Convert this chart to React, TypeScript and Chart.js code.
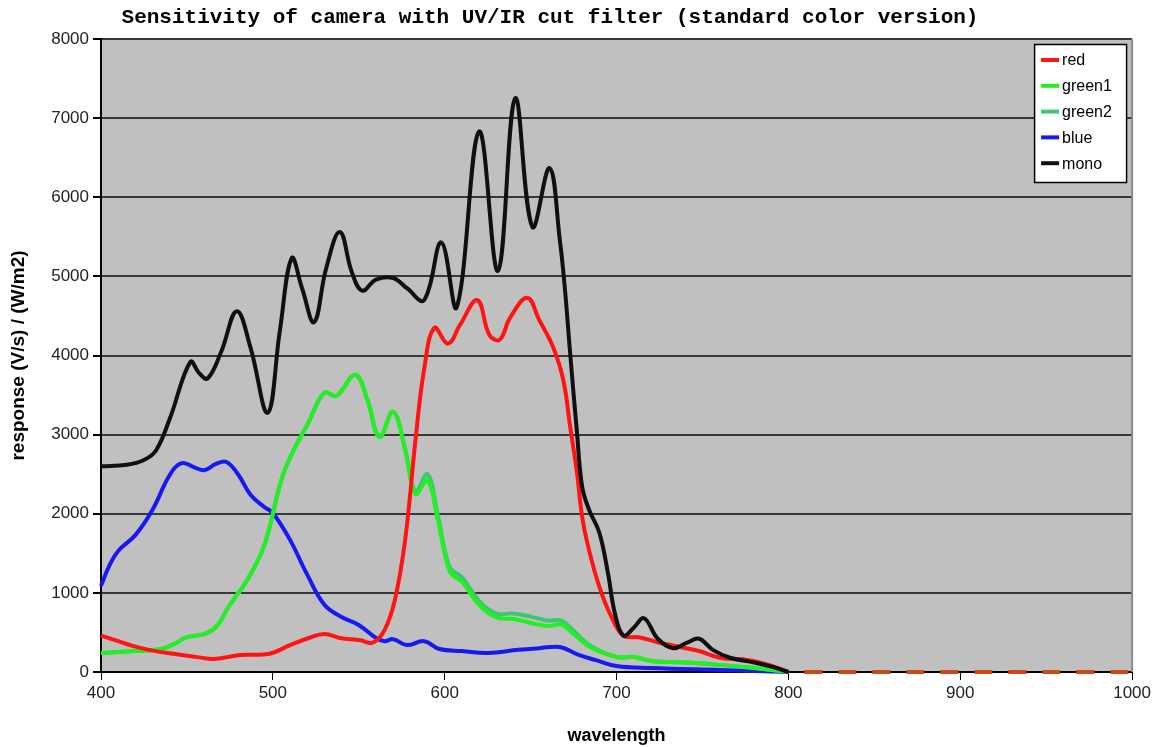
import React, { useEffect, useRef } from "react";
import { Chart, registerables } from "chart.js";

Chart.register(...registerables);

const TITLE = "Sensitivity of camera with UV/IR cut filter (standard color version)";
const X_LABEL = "wavelength";
const Y_LABEL = "response (V/s) / (W/m2)";

const SERIES_NAMES = ["red", "green1", "green2", "blue", "mono"];
const SERIES_COLORS = ["#ff1414", "#22f022", "#3cc872", "#1818f0", "#101010"];
const TAIL_COLOR = "#cc4a16";

const X_MIN = 400;
const X_MAX = 1000;
const X_STEP = 100;
const Y_MIN = 0;
const Y_MAX = 8000;
const Y_STEP = 1000;

const redNm = [400, 410, 420, 430, 445, 457, 466, 481, 498, 510, 521, 530, 539, 551, 558, 565, 571, 577, 583, 588, 594, 602, 609, 619, 626, 632, 638, 648, 655, 663, 669, 673, 677, 680, 684, 690, 696, 704, 713, 725, 737, 748, 760, 777, 790, 800];
const redVal = [460, 390, 320, 270, 220, 185, 165, 215, 230, 340, 430, 480, 430, 400, 370, 530, 910, 1670, 2930, 3820, 4350, 4150, 4390, 4700, 4260, 4200, 4475, 4730, 4450, 4110, 3690, 3100, 2515, 1960, 1540, 1075, 745, 460, 440, 370, 315, 265, 180, 150, 80, 0];

const green1Nm = [400, 420, 435, 443, 450, 460, 467, 475, 485, 495, 505, 512, 520, 530, 537, 548, 555, 562, 570, 577, 583, 590, 596, 603, 610, 620, 630, 640, 650, 660, 668, 675, 685, 700, 710, 720, 740, 760, 780, 800];
const green1Val = [240, 265, 290, 360, 440, 480, 570, 850, 1160, 1600, 2430, 2800, 3120, 3530, 3490, 3755, 3440, 2970, 3290, 2810, 2250, 2420, 1920, 1270, 1140, 850, 690, 670, 620, 580, 600, 480, 310, 190, 190, 140, 120, 90, 50, 0];

const green2Nm = [400, 420, 435, 443, 450, 460, 467, 475, 485, 495, 505, 512, 520, 530, 537, 548, 555, 562, 570, 577, 583, 590, 596, 603, 610, 620, 630, 640, 650, 660, 668, 675, 685, 700, 710, 720, 740, 760, 780, 800];
const green2Val = [240, 265, 290, 360, 440, 480, 570, 850, 1160, 1600, 2430, 2800, 3120, 3530, 3490, 3755, 3440, 2970, 3290, 2810, 2280, 2500, 1980, 1320, 1200, 900, 740, 740, 700, 650, 650, 520, 330, 190, 190, 140, 120, 90, 50, 0];

const blueNm = [400, 405, 410, 420, 430, 440, 447, 455, 460, 467, 473, 480, 487, 495, 500, 510, 520, 530, 540, 550, 560, 565, 570, 578, 588, 597, 610, 625, 643, 655, 667, 678, 688, 700, 720, 760, 800];
const blueVal = [1090, 1350, 1530, 1730, 2050, 2490, 2640, 2580, 2550, 2630, 2655, 2490, 2240, 2085, 2010, 1670, 1230, 850, 695, 595, 430, 390, 415, 340, 390, 290, 265, 240, 280, 300, 316, 215, 150, 75, 50, 25, 0];

const monoNm = [400, 415, 425, 432, 440, 452, 457, 462, 470, 479, 487, 497, 504, 511, 517, 524, 531, 539, 546, 552, 560, 570, 578, 588, 598, 607, 620, 631, 641, 651, 661, 667, 670, 673, 677, 680, 684, 690, 695, 699, 704, 710, 716, 724, 733, 741, 748, 756, 766, 780, 790, 800];
const monoVal = [2600, 2620, 2680, 2800, 3200, 3920, 3780, 3710, 4050, 4560, 4100, 3275, 4300, 5230, 4850, 4420, 5100, 5560, 5050, 4820, 4960, 4980, 4850, 4700, 5430, 4610, 6830, 5070, 7250, 5625, 6370, 5460, 4830, 4030, 3020, 2340, 2050, 1760, 1250, 745, 460, 560, 680, 420, 300, 370, 420, 280, 180, 120, 70, 0];

const tailNm = [800, 1000];
const tailVal = [0, 0];

const SERIES_NM = [redNm, green1Nm, green2Nm, blueNm, monoNm];
const SERIES_VAL = [redVal, green1Val, green2Val, blueVal, monoVal];
const SERIES_ORDER = [1, 2, 3, 4, 0];

const toPoints = (xs: number[], ys: number[]) => xs.map((x, i) => ({ x, y: ys[i] }));

const decorPlugin = {
  id: "decor",
  beforeDraw(chart: any) {
    const { ctx, chartArea: a } = chart;
    ctx.save();
    ctx.fillStyle = "#ffffff";
    ctx.fillRect(0, 0, chart.width, chart.height);
    ctx.fillStyle = "#c0c0c0";
    ctx.fillRect(a.left, a.top, a.right - a.left, a.bottom - a.top);
    ctx.fillStyle = "#000";
    ctx.font = "bold 21px 'Liberation Mono', 'Courier New', monospace";
    ctx.textAlign = "center";
    ctx.textBaseline = "middle";
    ctx.fillText(TITLE, 550, 18);
    ctx.restore();
  },
  afterDraw(chart: any) {
    const { ctx, chartArea: a } = chart;
    ctx.save();
    ctx.strokeStyle = "#8a8a8a";
    ctx.lineWidth = 2;
    ctx.beginPath();
    ctx.moveTo(a.right, a.top);
    ctx.lineTo(a.right, a.bottom);
    ctx.stroke();
    const bw = 93;
    const bh = 139;
    const bx = a.right - 5 - bw;
    const by = a.top + 5;
    ctx.fillStyle = "#ffffff";
    ctx.fillRect(bx, by, bw, bh);
    ctx.strokeStyle = "#000";
    ctx.lineWidth = 1.5;
    ctx.strokeRect(bx + 0.5, by + 0.5, bw - 1, bh - 1);
    ctx.font = "16px 'Liberation Sans', Arial, sans-serif";
    ctx.textAlign = "left";
    ctx.textBaseline = "middle";
    SERIES_NAMES.forEach((name, i) => {
      const y = by + 16 + i * 25.8;
      ctx.strokeStyle = SERIES_COLORS[i];
      ctx.lineWidth = 4;
      ctx.beginPath();
      ctx.moveTo(bx + 7, y);
      ctx.lineTo(bx + 25, y);
      ctx.stroke();
      ctx.fillStyle = "#000";
      ctx.fillText(name, bx + 28, y + 1);
    });
    ctx.restore();
  },
};

export default function App() {
  const ref = useRef<HTMLCanvasElement | null>(null);

  useEffect(() => {
    if (!ref.current) return;
    const datasets: any[] = SERIES_NAMES.map((name, i) => ({
      label: name,
      data: toPoints(SERIES_NM[i], SERIES_VAL[i]),
      borderColor: SERIES_COLORS[i],
      backgroundColor: SERIES_COLORS[i],
      borderWidth: 4,
      pointRadius: 0,
      tension: 0.4,
      fill: false,
      order: SERIES_ORDER[i],
      clip: 4,
    }));
    datasets.push({
      label: "tail",
      data: toPoints(tailNm, tailVal),
      borderColor: TAIL_COLOR,
      borderWidth: 4,
      borderDash: [18, 16],
      borderDashOffset: 18,
      pointRadius: 0,
      fill: false,
      order: 5,
      clip: 4,
    });

    const tickFont = { family: "'Liberation Sans', Arial, sans-serif", size: 17 };
    const plain = (v: any) => String(v);
    const chart = new Chart(ref.current, {
      type: "line",
      data: { datasets },
      plugins: [decorPlugin],
      options: {
        animation: false,
        responsive: false,
        layout: { padding: { left: 0, right: 19, top: 39, bottom: 0 } },
        plugins: {
          legend: { display: false },
          title: { display: false },
          tooltip: { enabled: false },
        },
        scales: {
          x: {
            type: "linear",
            min: X_MIN,
            max: X_MAX,
            afterFit: (s: any) => {
              s.height = 75;
            },
            ticks: {
              stepSize: X_STEP,
              color: "#222",
              font: tickFont,
              padding: 3,
              maxRotation: 0,
              callback: plain,
            },
            grid: {
              drawOnChartArea: false,
              drawTicks: true,
              tickLength: 8,
              tickColor: "#000",
              color: "#000",
            },
            border: { display: true, color: "#000", width: 2 },
            title: {
              display: true,
              text: X_LABEL,
              color: "#000",
              font: { family: "'Liberation Sans', Arial, sans-serif", size: 18, weight: "bold" },
              padding: { top: 0, bottom: 0 },
            },
          },
          y: {
            type: "linear",
            min: Y_MIN,
            max: Y_MAX,
            afterFit: (s: any) => {
              s.width = 101;
            },
            ticks: {
              stepSize: Y_STEP,
              color: "#222",
              font: tickFont,
              padding: 4,
              callback: plain,
            },
            grid: {
              color: "#383838",
              lineWidth: 2,
              drawTicks: true,
              tickLength: 8,
              tickColor: "#000",
            },
            border: { display: true, color: "#000", width: 2 },
            title: {
              display: true,
              text: Y_LABEL,
              color: "#000",
              font: { family: "'Liberation Sans', Arial, sans-serif", size: 19, weight: "bold" },
              padding: { top: 7, bottom: 0 },
            },
          },
        },
      },
    });
    return () => chart.destroy();
  }, []);

  return (
    <div style={{ position: "absolute", left: 0, top: 0, width: 1154, height: 747, background: "#fff" }}>
      <canvas ref={ref} width={1154} height={747} style={{ display: "block" }} />
    </div>
  );
}
